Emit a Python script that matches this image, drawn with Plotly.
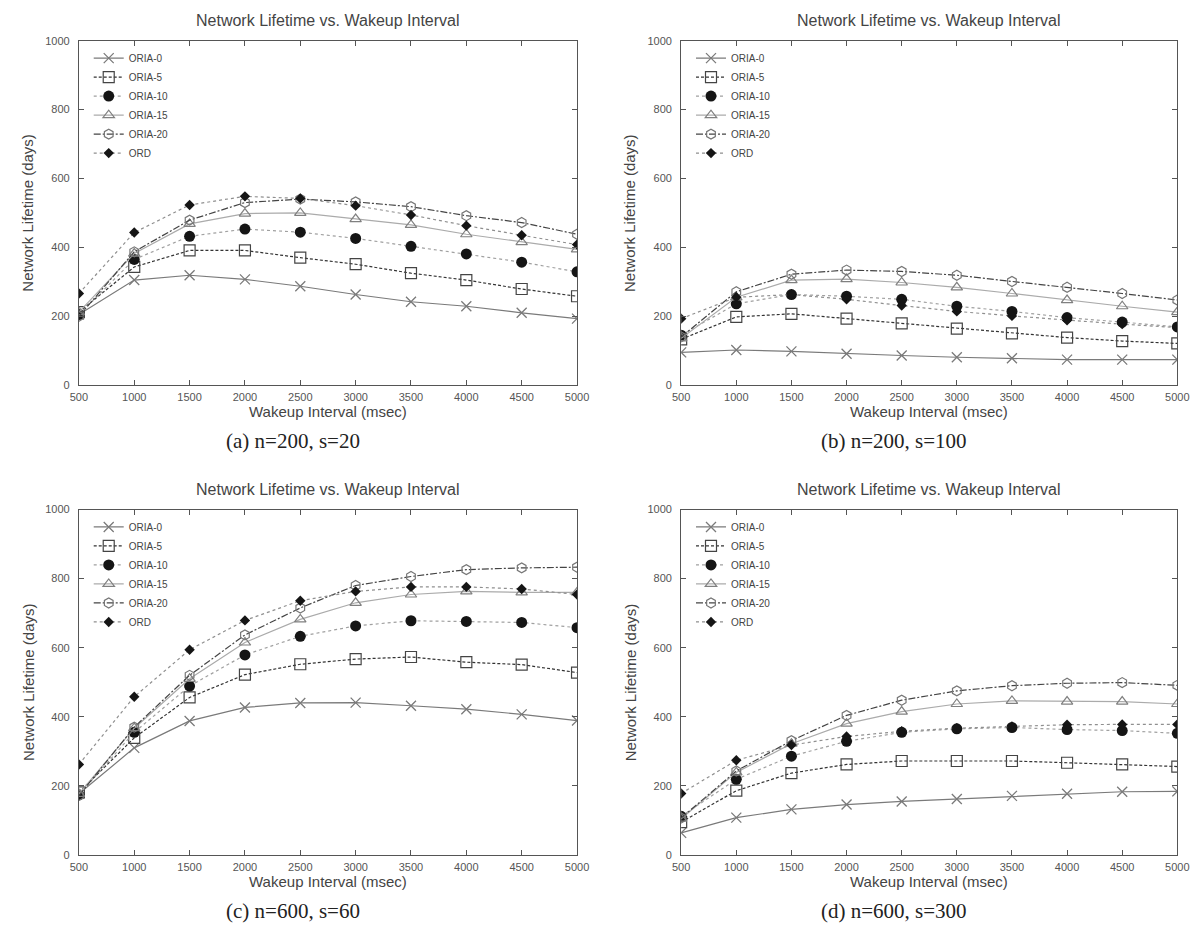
import plotly.graph_objects as go

# ---------------- data ----------------
wakeup = [500, 1000, 1500, 2000, 2500, 3000, 3500, 4000, 4500, 5000]
series_names = ["ORIA-0", "ORIA-5", "ORIA-10", "ORIA-15", "ORIA-20", "ORD"]

# (a) n=200, s=20
a_oria0 = [205, 305, 319, 307, 287, 263, 242, 229, 210, 193]
a_oria5 = [212, 343, 391, 391, 370, 351, 325, 305, 279, 258]
a_oria10 = [205, 365, 432, 453, 444, 426, 403, 381, 357, 329]
a_oria15 = [212, 382, 468, 498, 500, 482, 465, 438, 415, 394]
a_oria20 = [200, 387, 479, 530, 540, 532, 518, 492, 472, 438]
a_ord = [266, 443, 523, 548, 542, 521, 494, 463, 435, 408]

# (b) n=200, s=100
b_oria0 = [95, 102, 98, 91, 86, 81, 78, 74, 74, 74]
b_oria5 = [133, 198, 207, 193, 179, 164, 150, 138, 128, 121]
b_oria10 = [145, 236, 263, 258, 249, 229, 214, 196, 183, 169]
b_oria15 = [136, 255, 305, 308, 298, 284, 266, 247, 229, 212]
b_oria20 = [140, 271, 322, 334, 330, 319, 301, 284, 266, 247]
b_ord = [193, 255, 263, 249, 231, 214, 201, 188, 177, 167]

# (c) n=600, s=60
c_oria0 = [177, 310, 388, 427, 440, 441, 432, 422, 407, 389]
c_oria5 = [181, 339, 456, 522, 552, 567, 573, 558, 551, 528]
c_oria10 = [174, 355, 489, 579, 633, 663, 678, 676, 673, 658]
c_oria15 = [177, 367, 510, 615, 682, 730, 754, 763, 760, 760]
c_oria20 = [172, 370, 520, 637, 715, 780, 806, 826, 831, 833]
c_ord = [262, 458, 594, 679, 736, 763, 776, 776, 770, 754]

# (d) n=600, s=300
d_oria0 = [64, 108, 132, 146, 155, 162, 171, 177, 183, 184]
d_oria5 = [95, 186, 237, 262, 272, 272, 272, 267, 262, 256]
d_oria10 = [112, 219, 286, 329, 355, 365, 369, 363, 360, 352]
d_oria15 = [105, 239, 322, 380, 415, 437, 446, 444, 444, 437]
d_oria20 = [107, 243, 331, 404, 448, 475, 490, 497, 499, 491]
d_ord = [178, 274, 318, 343, 358, 367, 372, 377, 378, 378]

panels = [
    [a_oria0, a_oria5, a_oria10, a_oria15, a_oria20, a_ord],
    [b_oria0, b_oria5, b_oria10, b_oria15, b_oria20, b_ord],
    [c_oria0, c_oria5, c_oria10, c_oria15, c_oria20, c_ord],
    [d_oria0, d_oria5, d_oria10, d_oria15, d_oria20, d_ord],
]
captions = ["(a) n=200, s=20", "(b) n=200, s=100", "(c) n=600, s=60", "(d) n=600, s=300"]
plot_title = "Network Lifetime vs. Wakeup Interval"
x_title = "Wakeup Interval (msec)"
y_title = "Network Lifetime (days)"
y_ticks = [0, 200, 400, 600, 800, 1000]

# ---------------- styling ----------------
W, H = 1200, 927
styles = [
    dict(line=dict(color="#7a7a7a", width=1.2, dash="solid"),
         marker=dict(symbol="x-thin-open", size=10, line=dict(color="#555555", width=1.3))),
    dict(line=dict(color="#333333", width=1.2, dash="3px,2px"),
         marker=dict(symbol="square-open", size=11, color="#444444", line=dict(color="#444444", width=1.2))),
    dict(line=dict(color="#a0a0a0", width=1.2, dash="dot"),
         marker=dict(symbol="circle", size=11, color="#151515", line=dict(color="#151515", width=0))),
    dict(line=dict(color="#ababab", width=1.2, dash="solid"),
         marker=dict(symbol="triangle-up-open", size=10, color="#808080", line=dict(color="#808080", width=1.2))),
    dict(line=dict(color="#444444", width=1.2, dash="7px,2px,2px,2px"),
         marker=dict(symbol="hexagon-open", size=10, color="#777777", line=dict(color="#777777", width=1.2))),
    dict(line=dict(color="#8f8f8f", width=1.2, dash="dot"),
         marker=dict(symbol="diamond", size=8, color="#151515", line=dict(color="#151515", width=0))),
]

# pixel geometry of the four plot areas: (left, right, top, bottom)
boxes = [
    (63, 570, 27, 376),
    (676, 1181, 27, 376),
    (63, 570, 502, 852),
    (676, 1181, 502, 852),
]

def px(x):
    return x / W

def py(y):
    return 1 - y / H

fig = go.Figure()
sans = "Liberation Sans, Arial, sans-serif"
axis_font = dict(family=sans, size=11, color="#555555")
annotations = []
layout_axes = {}

for i, (series_list, box) in enumerate(zip(panels, boxes)):
    n = i + 1
    xa = "x" if n == 1 else f"x{n}"
    ya = "y" if n == 1 else f"y{n}"
    leg = "legend" if n == 1 else f"legend{n}"
    l, r, t, b = box
    for name, vals, st in zip(series_names, series_list, styles):
        fig.add_trace(go.Scatter(
            x=wakeup, y=vals, name=name, mode="lines+markers",
            line=st["line"], marker=st["marker"],
            xaxis=xa, yaxis=ya, legend=leg, showlegend=True,
        ))
    xkey = "xaxis" if n == 1 else f"xaxis{n}"
    ykey = "yaxis" if n == 1 else f"yaxis{n}"
    layout_axes[xkey] = dict(
        domain=[px(l), px(r)], anchor=ya, range=[500, 5000],
        tickmode="array", tickvals=wakeup, ticktext=[str(v) for v in wakeup],
        ticks="inside", ticklen=5, tickcolor="#555555", tickwidth=1,
        showline=True, linecolor="#555555", linewidth=1, mirror="ticks",
        showgrid=False, zeroline=False, tickfont=axis_font, ticklabelstandoff=2,
    )
    layout_axes[ykey] = dict(
        domain=[py(b), py(t)], anchor=xa, range=[0, 1000],
        tickmode="array", tickvals=y_ticks, ticktext=[str(v) for v in y_ticks],
        ticks="inside", ticklen=5, tickcolor="#555555", tickwidth=1,
        showline=True, linecolor="#555555", linewidth=1, mirror="ticks",
        showgrid=False, zeroline=False, tickfont=axis_font, ticklabelstandoff=6,
    )
    layout_axes[leg] = dict(
        x=px(l + 10), y=py(t + 3), xanchor="left", yanchor="top",
        bgcolor="rgba(0,0,0,0)", borderwidth=0,
        font=dict(family=sans, size=10, color="#444444"),
        itemwidth=30, tracegroupgap=0,
    )
    cx = (l + r) / 2
    cy = (t + b) / 2
    annotations.append(dict(text=plot_title, x=px(cx), y=py(t - 20), xref="paper", yref="paper",
                            xanchor="center", yanchor="middle", showarrow=False,
                            font=dict(family=sans, size=16, color="#444444")))
    annotations.append(dict(text=x_title, x=px(cx), y=py(b + 27), xref="paper", yref="paper",
                            xanchor="center", yanchor="middle", showarrow=False,
                            font=dict(family=sans, size=15, color="#444444")))
    annotations.append(dict(text=y_title, x=px(l - 52), y=py(cy), xref="paper", yref="paper",
                            xanchor="center", yanchor="middle", showarrow=False, textangle=-90,
                            font=dict(family=sans, size=15, color="#444444")))
    annotations.append(dict(text=captions[i], x=px(cx - 36), y=py(b + 57), xref="paper", yref="paper",
                            xanchor="center", yanchor="middle", showarrow=False,
                            font=dict(family="Liberation Serif, Times New Roman, serif", size=21, color="#222222")))

fig.update_layout(
    width=W, height=H,
    margin=dict(l=0, r=0, t=0, b=0),
    paper_bgcolor="white", plot_bgcolor="white",
    annotations=annotations,
    **layout_axes,
)

fig.write_html("out.html")
